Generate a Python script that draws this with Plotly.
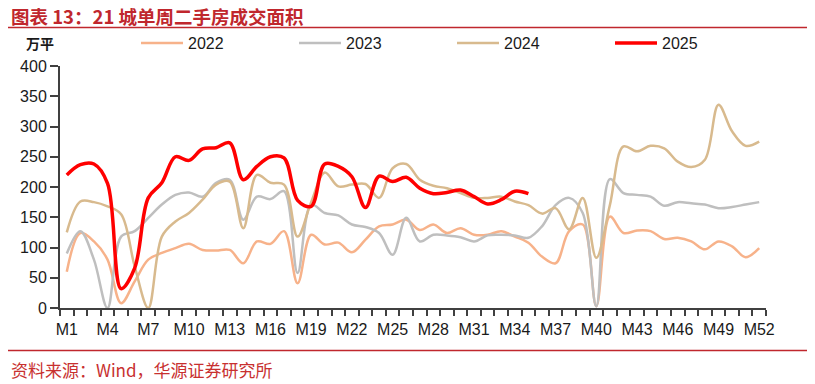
import plotly.graph_objects as go

weeks = [f"M{i}" for i in range(1, 53)]
tick_labels = [f"M{i}" for i in range(1, 53, 3)]

s2022 = [60,124,110,80,8,44,80,91,99,106,96,95,96,74,110,106,127,41,121,105,108,92,113,135,138,146,129,138,124,132,121,121,127,118,108,85,74,127,138,3,151,124,128,127,114,116,110,97,110,102,84,99]
s2023 = [90,127,80,0,118,127,149,171,187,191,184,207,212,146,184,180,193,58,171,157,153,138,134,124,88,149,110,121,120,117,110,120,121,120,116,135,170,182,157,3,213,190,187,184,169,175,173,171,165,167,171,175]
s2024 = [125,176,175,168,155,69,0,118,143,157,179,204,209,132,220,207,204,118,175,224,201,204,205,182,231,238,212,202,198,190,182,182,184,176,170,156,165,130,182,83,170,267,259,268,264,242,233,245,336,292,268,275]
s2025 = [220,237,238,206,32,66,182,207,250,244,263,265,273,212,234,250,248,178,168,238,234,217,166,218,209,216,198,189,191,195,184,172,179,193,189]

series = [("2022", s2022, "#F7B28A", 2.5),
          ("2023", s2023, "#BFBFBF", 2.5),
          ("2024", s2024, "#D8BA8E", 2.5),
          ("2025", s2025, "#FF0000", 3.5)]

pos = {w: i + 1 for i, w in enumerate(weeks)}

fig = go.Figure()
for name, vals, color, width in series:
    fig.add_trace(go.Scatter(
        x=[pos[w] for w in weeks[:len(vals)]], y=vals, name=name, mode="lines",
        line=dict(color=color, width=width, shape="spline", smoothing=1.0),
    ))

# page is drawn with an 8px body margin; work in page coordinates
OFF = 8
PAGE_W, PAGE_H = 815, 384
W, H = PAGE_W - OFF, PAGE_H - OFF
PL, PR, PT, PB = 60, 766, 66, 308   # plot area in page pixels
L, T = PL - OFF, PT - OFF
R = W - (PR - OFF)
B = H - (PB - OFF)
pw, ph = PR - PL, PB - PT

def px(xp):
    return (xp - PL) / pw

def py(yp):
    return (PB - yp) / ph

axis_color = "#404040"
font_family = "Arial, Liberation Sans, sans-serif"

fig.update_layout(
    width=W, height=H,
    margin=dict(l=L, r=R, t=T, b=B),
    plot_bgcolor="white", paper_bgcolor="white",
    font=dict(family=font_family, size=16, color="#1a1a1a"),
    showlegend=True,
    legend=dict(orientation="h", x=px(136), y=py(43), xanchor="left", yanchor="middle",
                entrywidth=101, entrywidthmode="pixels", itemwidth=42,
                font=dict(size=16, color="#1a1a1a"), bgcolor="rgba(0,0,0,0)",
                tracegroupgap=0),
    xaxis=dict(range=[0.5, 52.5], tickmode="array",
               tickvals=[pos[t] for t in tick_labels], ticktext=tick_labels,
               ticks="outside", ticklen=6, tickcolor="rgba(0,0,0,0)",
               showline=True, linecolor=axis_color, linewidth=2,
               showgrid=False, zeroline=False,
               minor=dict(ticks="outside", tick0=0.5, dtick=1, ticklen=6,
                          tickcolor=axis_color, tickwidth=1.5, showgrid=False),
               tickfont=dict(size=16, color="#1a1a1a")),
    yaxis=dict(range=[0, 400], tickvals=[0, 50, 100, 150, 200, 250, 300, 350, 400],
               ticks="outside", ticklen=8, tickcolor=axis_color, tickwidth=1.5,
               showline=True, linecolor=axis_color, linewidth=2,
               showgrid=False, zeroline=False,
               tickfont=dict(size=16, color="#1a1a1a")),
)

title_color = "#C0272D"
fig.add_annotation(text="<b>图表 13：21 城单周二手房成交面积</b>", xref="paper", yref="paper",
                   x=px(8.5), y=py(16.5), xanchor="left", yanchor="middle", showarrow=False,
                   font=dict(family="Noto Sans CJK SC", size=18.5, color=title_color))
fig.add_shape(type="line", xref="paper", yref="paper", x0=px(8), x1=px(815), y0=py(27.5), y1=py(27.5),
              line=dict(color=title_color, width=1.5))
fig.add_shape(type="line", xref="paper", yref="paper", x0=px(8), x1=px(815), y0=py(350.5), y1=py(350.5),
              line=dict(color=title_color, width=1.5))
fig.add_annotation(text="资料来源：Wind，华源证券研究所", xref="paper", yref="paper",
                   x=px(8.5), y=py(369), xanchor="left", yanchor="middle", showarrow=False,
                   font=dict(family="Noto Sans CJK SC", size=17, color="#C8302F"))
fig.add_annotation(text="<b>万平</b>", xref="paper", yref="paper",
                   x=px(24), y=py(43), xanchor="left", yanchor="middle", showarrow=False,
                   font=dict(family="Noto Sans CJK SC", size=14, color="#1a1a1a"))

fig.write_html("out.html")
